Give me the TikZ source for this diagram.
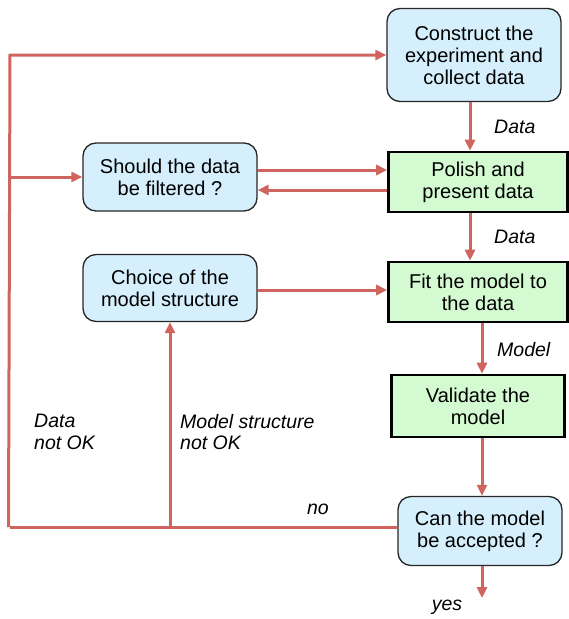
\documentclass[tikz,border=0pt]{standalone}
\usepackage{fontspec}
\setmainfont{Liberation Sans}
\usepackage{xcolor}
\usetikzlibrary{arrows.meta,positioning,calc}

\definecolor{stepblue}{RGB}{214,239,252}
\definecolor{stepgreen}{RGB}{212,250,210}
\definecolor{loopred}{RGB}{208,100,94}

\begin{document}
\begin{tikzpicture}[
  x=1pt,y=-1pt,
  flow/.style={-{Triangle[length=11pt,width=10pt]},line width=3pt,
    draw=loopred},
  wire/.style={line width=3pt,draw=loopred},
  query/.style={draw=black!85,line width=1.3pt,rounded corners=13pt,
    fill=stepblue,align=center,inner sep=0pt,minimum width=174pt},
  action/.style={draw=black,line width=2.6pt,fill=stepgreen,
    align=center,inner sep=0pt},
  tag/.style={font=\fontsize{19.5}{21.5}\selectfont\itshape,align=left,
    inner sep=0pt},
  every node/.style={font=\fontsize{20}{22}\selectfont}
]
  \useasboundingbox (0,0) rectangle (569,619);

  % boxes
  \node[query,minimum height=93pt] (construct) at (474,55)
    {Construct the\\experiment and\\collect data};
  \node[action,minimum width=179pt,minimum height=60pt] (polish) at (478,182)
    {Polish and\\present data};
  \node[action,minimum width=179pt,minimum height=60pt] (fit) at (478,292)
    {Fit the model to\\the data};
  \node[action,minimum width=173pt,minimum height=62pt] (validate) at (478,406)
    {Validate the\\model};
  \node[query,minimum width=164pt,minimum height=69pt] (accept) at (480,531)
    {Can the model\\be accepted ?};
  \node[query,minimum height=68pt] (filter) at (170,177)
    {Should the data\\be filtered ?};
  \node[query,minimum height=67pt] (choice) at (170,288)
    {Choice of the\\model structure};

  \coordinate (rail) at (10,527);
  \coordinate (upper) at (470,0);
  \coordinate (lower) at (482,0);
  \coordinate (done) at (482,598);

  % labels
  \node[tag,anchor=west] (dataA) at (494,127) {Data};
  \node[tag,anchor=west] (dataB) at (494,237) {Data};
  \node[tag,anchor=west] (model) at (497,350) {Model};
  \node[tag] (yes) at (447,607) {yes};
  \node[tag] (no) at (318,509) {no};
  \node[tag,anchor=north west] (dataBad) at (34,414) {Data\\not OK};
  \node[tag,anchor=north west] (structBad) at (180,414)
    {Model structure\\not OK};

  % main chain
  \draw[flow] (construct.south -| upper) -- (polish.north -| upper);
  \draw[flow] (polish.south -| upper) -- (fit.north -| upper);
  \draw[flow] (fit.south -| lower) -- (validate.north -| lower);
  \draw[flow] (validate.south -| lower) -- (accept.north -| lower);
  \draw[flow] (accept.south -| done) -- (done);

  % side boxes
  \draw[flow] ([yshift=7pt]filter.east) -- ([yshift=7pt]filter.east -| polish.west);
  \draw[flow] ([yshift=-8pt]polish.west) -- ([yshift=-8pt]polish.west -| filter.east);
  \draw[flow] ([yshift=-2pt]choice.east) -- ([yshift=-2pt]choice.east -| fit.west);

  % feedback loop
  \draw[wire] (accept.west |- rail) -- (rail);
  \draw[flow] ([xshift=-1.5pt]rail) -- (rail |- construct.west) -- (construct.west);
  \draw[flow] (rail |- filter.west) -- (filter.west);
  \draw[flow] (rail -| choice.south) -- (choice.south);
\end{tikzpicture}
\end{document}
